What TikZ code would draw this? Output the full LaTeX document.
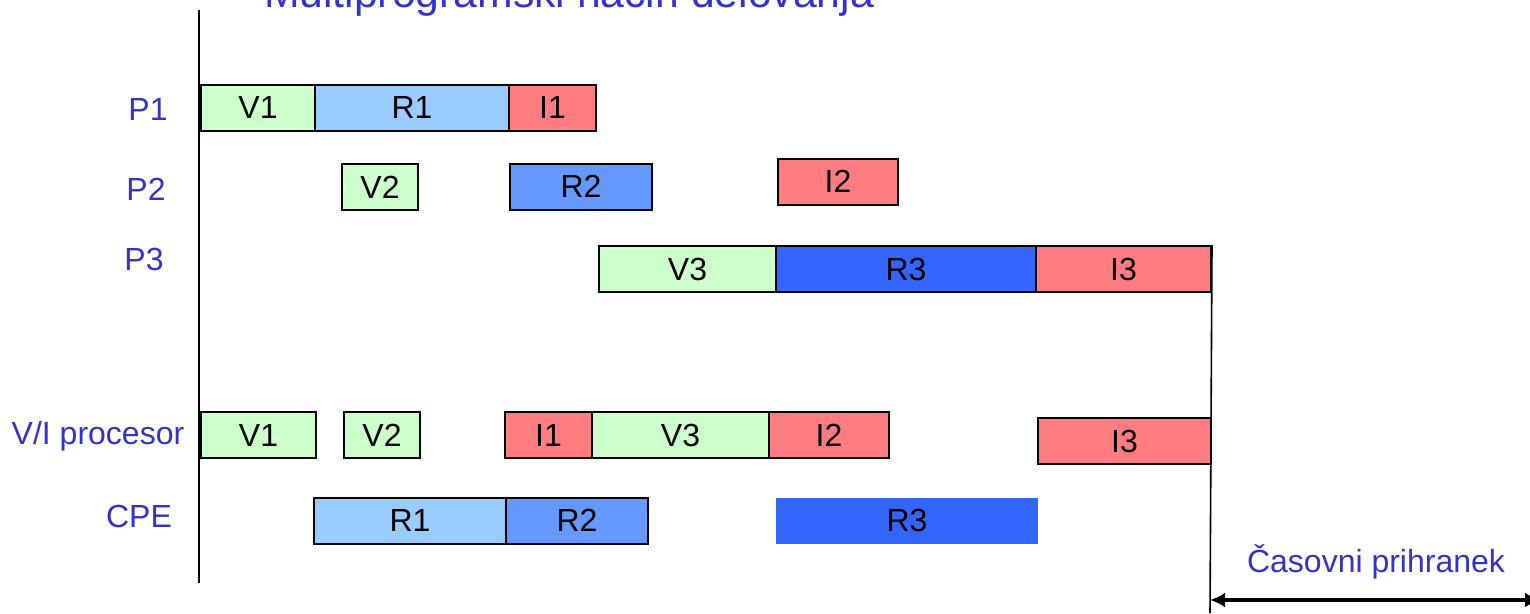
\documentclass[tikz,border=0pt]{standalone}
\usepackage{fontspec}
\setmainfont{Liberation Sans}
\usetikzlibrary{arrows.meta}
\definecolor{vgreen}{HTML}{CCFFCC}
\definecolor{rlight}{HTML}{99CCFF}
\definecolor{rmid}{HTML}{6699FF}
\definecolor{rdark}{HTML}{3366FF}
\definecolor{ired}{HTML}{FF7C80}
\definecolor{lblue}{HTML}{3333CC}
\begin{document}
\begin{tikzpicture}[x=1pt,y=-1pt,
	slot/.style={draw=black,line width=2pt,anchor=west,inner sep=0pt,minimum height=46,font=\fontsize{32}{38}\selectfont},
	rowlabel/.style={anchor=base,text=lblue,inner sep=0pt,font=\fontsize{32}{38}\selectfont}]
			\useasboundingbox (0,0) rectangle (1530,613);
			\node[rowlabel,font=\fontsize{42.7}{50}\selectfont](title) at (569,7){Multiprogramski način delovanja};
			% axis and rows
			\coordinate (axtop) at (199,10);
			\coordinate (axbot) at (199,583);
			\draw[line width=1.6pt](axtop)--(axbot);
			\node[rowlabel](lp1) at (148,120){P1};
			\node[rowlabel](lp2) at (146,200){P2};
			\node[rowlabel](lp3) at (144,270){P3};
			\node[rowlabel](lvi) at (98,444){V/I procesor};
			\node[rowlabel](lcpe) at (139,527){CPE};
			% P1
			\node[slot,fill=vgreen,minimum width=114](p1v) at (200,107.5){V1};
			\node[slot,fill=rlight,minimum width=194](p1r) at (314,107.5){R1};
			\node[slot,fill=ired,minimum width=87](p1i) at (508,107.5){I1};
			% P2
			\node[slot,fill=vgreen,minimum width=76](p2v) at (341,187){V2};
			\node[slot,fill=rmid,minimum width=142](p2r) at (509,186.5){R2};
			\node[slot,fill=ired,minimum width=120](p2i) at (777,181.5){I2};
			% P3
			\node[slot,fill=vgreen,minimum width=177](p3v) at (598,269){V3};
			\node[slot,fill=rdark,minimum width=260](p3r) at (775,269){R3};
			\node[slot,fill=ired,minimum width=175](p3i) at (1035,269){I3};
			% V/I procesor
			\node[slot,fill=vgreen,minimum width=115](viv1) at (200,435){V1};
			\node[slot,fill=vgreen,minimum width=76](viv2) at (343,435){V2};
			\node[slot,fill=ired,minimum width=87](vii1) at (504,435){I1};
			\node[slot,fill=vgreen,minimum width=177](viv3) at (591,435){V3};
			\node[slot,fill=ired,minimum width=120](vii2) at (768,435){I2};
			\node[slot,fill=ired,minimum width=173](vii3) at (1037,441){I3};
			% CPE
			\node[slot,fill=rlight,minimum width=192](cr1) at (313,520.5){R1};
			\node[slot,fill=rmid,minimum width=142](cr2) at (505,520.5){R2};
			\node[slot,draw=none,fill=rdark,minimum width=262](cr3) at (775,520.5){R3};
			% saving
			\coordinate (endbot) at (1210,613);
			\draw[line width=1.6pt](p3i.north east)--(endbot);
			\coordinate (savl) at (1210,600);
			\coordinate (savr) at (1540,600);
			\draw[line width=3.5pt,{Latex[length=15pt,width=15pt]}-{Latex[length=15pt,width=15pt]}](savl)--(savr);
			\node[rowlabel](lsav) at (1376,572){Časovni prihranek};
		\end{tikzpicture}
\end{document}
